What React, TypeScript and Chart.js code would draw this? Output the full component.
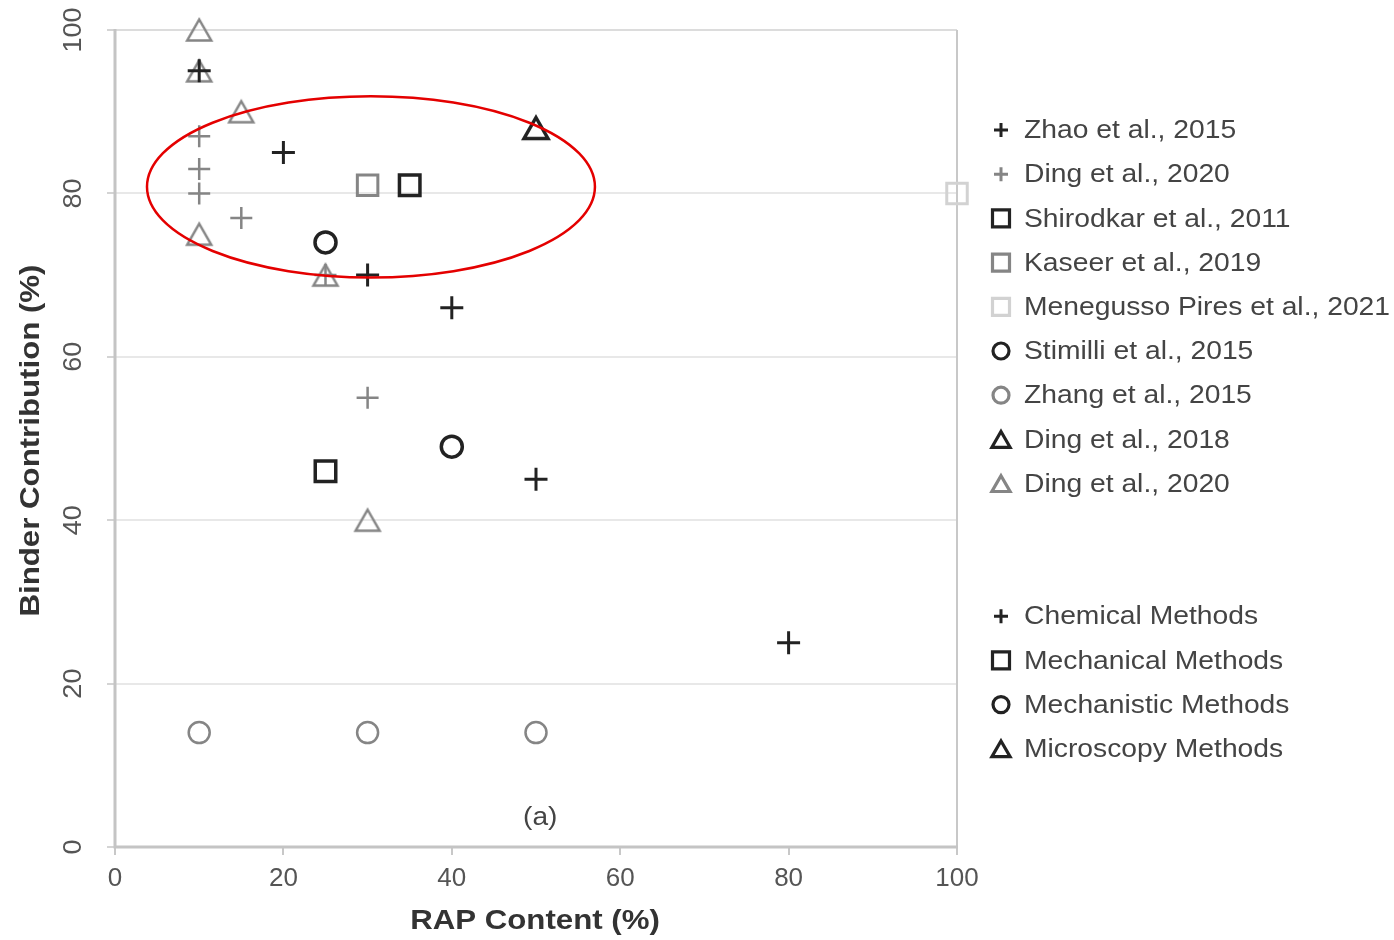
import React, { useEffect, useRef } from 'react';
import { Chart, registerables } from 'chart.js';

Chart.register(...registerables);

// ---------- data ----------
const X_TICKS = [0, 20, 40, 60, 80, 100];
const Y_TICKS = [0, 20, 40, 60, 80, 100];

const zhao2015 = [[10, 95], [20, 85], [30, 70], [40, 66], [50, 45], [80, 25]];
const ding2020Chem = [[10, 87], [10, 83], [10, 80], [15, 77], [25, 70], [30, 55]];
const shirodkar2011 = [[35, 81], [25, 46]];
const kaseer2019 = [[30, 81]];
const menegussoPires2021 = [[100, 80]];
const stimilli2015 = [[25, 74], [40, 49]];
const zhang2015 = [[10, 14], [30, 14], [50, 14]];
const ding2018 = [[50, 88]];
const ding2020Micro = [[10, 100], [10, 95], [15, 90], [10, 75], [25, 70], [30, 40]];

const STUDY_LABELS = [
  'Zhao et al., 2015',
  'Ding et al., 2020',
  'Shirodkar et al., 2011',
  'Kaseer et al., 2019',
  'Menegusso Pires et al., 2021',
  'Stimilli et al., 2015',
  'Zhang et al., 2015',
  'Ding et al., 2018',
  'Ding et al., 2020',
];
const METHOD_LABELS = ['Chemical Methods', 'Mechanical Methods', 'Mechanistic Methods', 'Microscopy Methods'];

// highlight ellipse in data units: centre x, centre y, half-width, half-height
const HIGHLIGHT = { cx: 30.4, cy: 80.8, rx: 26.6, ry: 11.1 };
const PANEL_LABEL = { text: '(a)', x: 50.5, y: 3.6 };
const X_TITLE = 'RAP Content (%)';
const Y_TITLE = 'Binder Contribution (%)';

// ---------- styles ----------
const FONT = '"Liberation Sans", Arial, sans-serif';
const BLACK = '#222222';
const GRAY = '#858585';
const LIGHT = '#d2d2d2';

type Style = { pointStyle: string; color: string; lw: number; r: number };
const STYLE_CROSS_B: Style = { pointStyle: 'cross', color: BLACK, lw: 3, r: 11.5 };
const STYLE_CROSS_G: Style = { pointStyle: 'cross', color: GRAY, lw: 2.5, r: 11 };
const STYLE_RECT_B: Style = { pointStyle: 'rect', color: BLACK, lw: 3.5, r: 14.5 };
const STYLE_RECT_G: Style = { pointStyle: 'rect', color: GRAY, lw: 3, r: 14.5 };
const STYLE_RECT_L: Style = { pointStyle: 'rect', color: LIGHT, lw: 3, r: 14.5 };
const STYLE_CIRC_B: Style = { pointStyle: 'circle', color: BLACK, lw: 3.5, r: 10.5 };
const STYLE_CIRC_G: Style = { pointStyle: 'circle', color: GRAY, lw: 2.5, r: 10.5 };
const STYLE_TRI_B: Style = { pointStyle: 'triangle', color: BLACK, lw: 3.5, r: 13 };
const STYLE_TRI_G: Style = { pointStyle: 'triangle', color: GRAY, lw: 2.5, r: 13 };

const SERIES = [
  { data: zhao2015, s: STYLE_CROSS_B },
  { data: ding2020Chem, s: STYLE_CROSS_G },
  { data: shirodkar2011, s: STYLE_RECT_B },
  { data: kaseer2019, s: STYLE_RECT_G },
  { data: menegussoPires2021, s: STYLE_RECT_L },
  { data: stimilli2015, s: STYLE_CIRC_B },
  { data: zhang2015, s: STYLE_CIRC_G },
  { data: ding2018, s: STYLE_TRI_B },
  { data: ding2020Micro, s: STYLE_TRI_G },
];
const METHOD_STYLES = [STYLE_CROSS_B, STYLE_RECT_B, STYLE_CIRC_B, STYLE_TRI_B];

// triangle marker drawn centred on its bounding box
function makeTriangle(color: string, lw: number): HTMLCanvasElement {
  const c = document.createElement('canvas');
  c.width = 32;
  c.height = 30;
  const ctx = c.getContext('2d')!;
  ctx.strokeStyle = color;
  ctx.lineWidth = lw;
  ctx.lineJoin = 'miter';
  ctx.beginPath();
  ctx.moveTo(16, 4.5);
  ctx.lineTo(28, 25.5);
  ctx.lineTo(4, 25.5);
  ctx.closePath();
  ctx.stroke();
  return c;
}

function drawText(
  ctx: CanvasRenderingContext2D,
  text: string,
  x: number,
  y: number,
  font: string,
  color: string,
  rot = 0,
  sx = 1,
  align: CanvasTextAlign = 'center',
  baseline: CanvasTextBaseline = 'middle'
) {
  ctx.save();
  ctx.translate(x, y);
  if (rot) ctx.rotate(rot);
  ctx.scale(sx, 1);
  ctx.font = font;
  ctx.fillStyle = color;
  ctx.textAlign = align;
  ctx.textBaseline = baseline;
  ctx.fillText(text, 0, 0);
  ctx.restore();
}

function drawMarker(ctx: CanvasRenderingContext2D, style: string, cx: number, cy: number, size: number, color: string, lw: number) {
  ctx.save();
  ctx.strokeStyle = color;
  ctx.lineWidth = lw;
  ctx.beginPath();
  if (style === 'cross') {
    ctx.moveTo(cx - size, cy);
    ctx.lineTo(cx + size, cy);
    ctx.moveTo(cx, cy - size);
    ctx.lineTo(cx, cy + size);
  } else if (style === 'rect') {
    ctx.rect(cx - size, cy - size, size * 2, size * 2);
  } else if (style === 'circle') {
    ctx.arc(cx, cy, size, 0, Math.PI * 2);
  } else if (style === 'triangle') {
    const h = size * 1.5;
    const top = cy - h / 2;
    ctx.moveTo(cx, top);
    ctx.lineTo(cx + size * 0.866, top + h);
    ctx.lineTo(cx - size * 0.866, top + h);
    ctx.closePath();
  }
  ctx.stroke();
  ctx.restore();
}

const framePlugin = {
  id: 'frame',
  beforeDatasetsDraw(chart: any) {
    const { ctx, chartArea: a } = chart;
    ctx.save();
    ctx.lineWidth = 2;
    ctx.strokeStyle = '#dcdcdc';
    ctx.beginPath();
    ctx.moveTo(a.left, a.top);
    ctx.lineTo(a.right, a.top);
    ctx.stroke();
    ctx.strokeStyle = '#c8c8c8';
    ctx.beginPath();
    ctx.moveTo(a.right, a.top);
    ctx.lineTo(a.right, a.bottom);
    ctx.stroke();
    ctx.lineWidth = 3;
    ctx.strokeStyle = '#c4c4c4';
    ctx.beginPath();
    ctx.moveTo(a.left, a.top - 1);
    ctx.lineTo(a.left, a.bottom);
    ctx.lineTo(a.right + 1, a.bottom);
    ctx.stroke();
    ctx.restore();
  },
};

const annotationPlugin = {
  id: 'annotations',
  afterDatasetsDraw(chart: any) {
    const { ctx } = chart;
    const xs = chart.scales.x;
    const ys = chart.scales.y;
    const cx = xs.getPixelForValue(HIGHLIGHT.cx);
    const cy = ys.getPixelForValue(HIGHLIGHT.cy);
    const rx = Math.abs(xs.getPixelForValue(HIGHLIGHT.cx + HIGHLIGHT.rx) - cx);
    const ry = Math.abs(ys.getPixelForValue(HIGHLIGHT.cy + HIGHLIGHT.ry) - cy);
    ctx.save();
    ctx.strokeStyle = '#e40000';
    ctx.lineWidth = 2.5;
    ctx.beginPath();
    ctx.ellipse(cx, cy, rx, ry, 0, 0, Math.PI * 2);
    ctx.stroke();
    ctx.restore();

    drawText(
      ctx,
      PANEL_LABEL.text,
      xs.getPixelForValue(PANEL_LABEL.x),
      ys.getPixelForValue(PANEL_LABEL.y),
      `26px ${FONT}`,
      '#444',
      0,
      1.08
    );
  },
  afterDraw(chart: any) {
    const { ctx, chartArea: a } = chart;
    const ys = chart.scales.y;
    // y tick labels (rotated)
    for (const v of Y_TICKS) {
      drawText(ctx, String(v), 74, ys.getPixelForValue(v), `26px ${FONT}`, '#555', -Math.PI / 2, 1.04);
    }
    // axis titles
    drawText(ctx, Y_TITLE, 31, (a.top + a.bottom) / 2 + 2, `bold 28px ${FONT}`, '#333', -Math.PI / 2, 1.115);
    drawText(ctx, X_TITLE, 535, 929, `bold 28px ${FONT}`, '#333', 0, 1.115, 'center', 'alphabetic');

    // legend
    const rowH = 44.2;
    const top = 130;
    const symX = 1001;
    const textX = 1024;
    const drawEntry = (label: string, s: Style, y: number) => {
      const size = s.pointStyle === 'cross' ? 7 : s.pointStyle === 'rect' ? 8.5 : s.pointStyle === 'circle' ? 8 : 10.5;
      drawMarker(ctx, s.pointStyle, symX, y, size, s.color, s.pointStyle === 'cross' ? 3 : 3.2);
      drawText(ctx, label, textX, y + 1, `26px ${FONT}`, '#444', 0, 1.087, 'left', 'middle');
    };
    STUDY_LABELS.forEach((l, i) => drawEntry(l, SERIES[i].s, top + i * rowH));
    METHOD_LABELS.forEach((l, i) => drawEntry(l, METHOD_STYLES[i], top + (i + 11) * rowH));
  },
};

export default function App() {
  const ref = useRef<HTMLCanvasElement | null>(null);

  useEffect(() => {
    if (!ref.current) return;
    const triImages: Record<string, HTMLCanvasElement> = {};
    const styleFor = (s: Style): any => {
      if (s.pointStyle !== 'triangle') return s.pointStyle;
      const key = s.color + s.lw;
      if (!triImages[key]) triImages[key] = makeTriangle(s.color, s.lw);
      return triImages[key];
    };
    const chart = new Chart(ref.current, {
      type: 'scatter',
      data: {
        datasets: SERIES.map((ser, i) => ({
          label: STUDY_LABELS[i],
          data: ser.data.map(([x, y]) => ({ x, y })),
          pointStyle: styleFor(ser.s),
          pointRadius: ser.s.r,
          pointBorderWidth: ser.s.lw,
          borderColor: ser.s.color,
          backgroundColor: 'rgba(0,0,0,0)',
          clip: false as any,
        })),
      },
      options: {
        animation: false,
        responsive: false,
        devicePixelRatio: 1,
        events: [],
        layout: { padding: { left: 0, top: 30, right: 437, bottom: 0 } },
        plugins: {
          legend: { display: false },
          tooltip: { enabled: false },
          title: { display: false },
        },
        scales: {
          x: {
            type: 'linear',
            min: 0,
            max: 100,
            afterBuildTicks: (s: any) => {
              s.ticks = X_TICKS.map((v) => ({ value: v }));
            },
            ticks: { color: '#555', font: { family: FONT, size: 26 }, padding: 8, maxRotation: 0 },
            grid: { drawOnChartArea: false, drawTicks: true, tickLength: 8, color: '#c8c8c8', lineWidth: 2 },
            border: { display: false },
            afterFit: (s: any) => {
              s.height = 93;
            },
          },
          y: {
            type: 'linear',
            min: 0,
            max: 100,
            afterBuildTicks: (s: any) => {
              s.ticks = Y_TICKS.map((v) => ({ value: v }));
            },
            ticks: { display: false },
            grid: { color: '#e8e8e8', lineWidth: 2, tickLength: 8, tickColor: '#d4d4d4' },
            border: { display: false },
            afterFit: (s: any) => {
              s.width = 115;
            },
          },
        },
      },
      plugins: [framePlugin, annotationPlugin],
    });
    return () => chart.destroy();
  }, []);

  return (
    <div style={{ position: 'fixed', left: 0, top: 0, width: 1394, height: 940, background: '#fff' }}>
      <canvas ref={ref} width={1394} height={940} style={{ display: 'block' }} />
    </div>
  );
}
